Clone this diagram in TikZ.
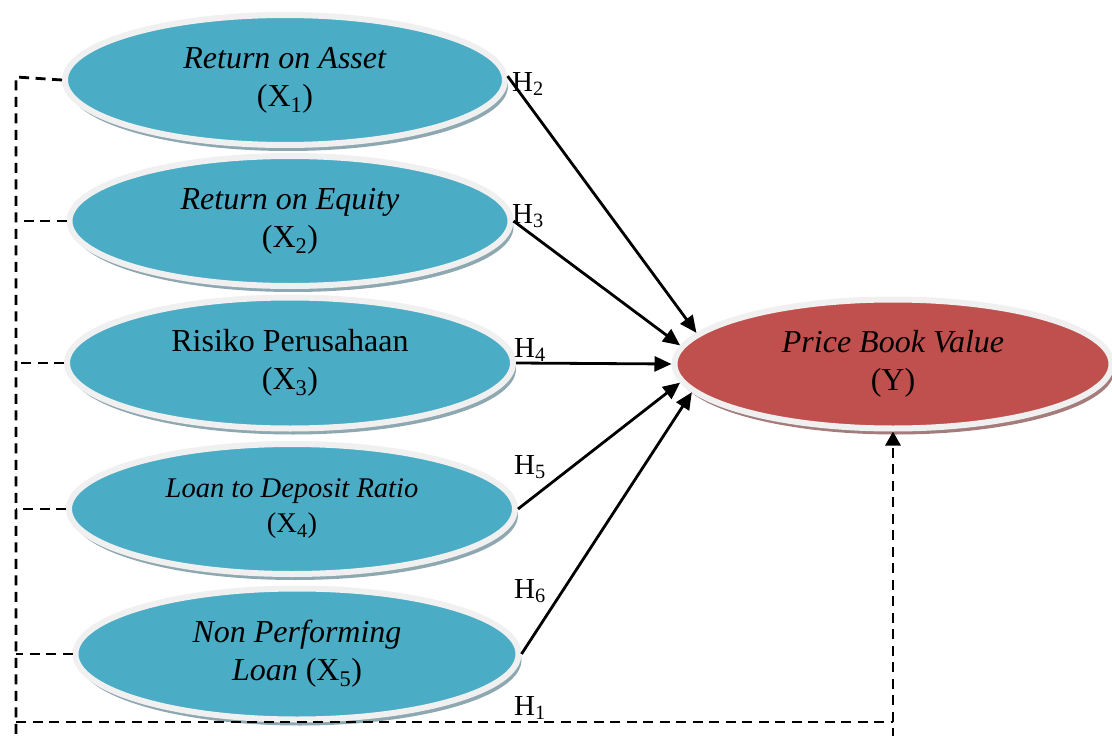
\documentclass[tikz,border=0pt]{standalone}
\usepackage{fontspec}
\setmainfont{Liberation Serif}
\usetikzlibrary{arrows.meta,shapes.geometric,shadows}
\definecolor{ebluefill}{HTML}{4BACC6}
\definecolor{eredfill}{HTML}{C0504D}
\definecolor{erim}{HTML}{F0F0F0}
\definecolor{ebshadow}{HTML}{8EA8B2}
\definecolor{ershadow}{HTML}{A47C7C}
\tikzset{
  varbase/.style={ellipse, draw=erim, line width=6pt, inner sep=0pt, align=center,
    font=\fontsize{32}{38}\selectfont},
  bluevar/.style={varbase, fill=ebluefill,
    drop shadow={shadow xshift=3pt, shadow yshift=-6pt, fill=ebshadow, opacity=1}},
  redvar/.style={varbase, fill=eredfill,
    drop shadow={shadow xshift=3pt, shadow yshift=-6pt, fill=ershadow, opacity=1}},
  hyparrow/.style={line width=2.8pt, -{Triangle[length=17pt,width=15pt]}},
  dline/.style={line width=2.8pt, dash pattern=on 10pt off 6.5pt},
  hlabel/.style={font=\fontsize{29}{32}\selectfont, inner sep=0pt, anchor=base west}
}
\begin{document}
\begin{tikzpicture}[x=1pt,y=-1pt]
\useasboundingbox (0,0) rectangle (1112,736);
\node[bluevar, minimum width=440, minimum height=130] (x1) at (285,80) {\textit{Return on Asset}\\(X\textsubscript{1})};
\node[bluevar, minimum width=441, minimum height=130] (x2) at (290,221) {\textit{Return on Equity}\\(X\textsubscript{2})};
\node[bluevar, minimum width=446, minimum height=131] (x3) at (290,363) {Risiko Perusahaan\\(X\textsubscript{3})};
\node[bluevar, minimum width=446, minimum height=130, font=\fontsize{28.5}{35}\selectfont] (x4) at (292,509) {\textit{Loan to Deposit Ratio}\\(X\textsubscript{4})};
\node[bluevar, minimum width=443, minimum height=131] (x5) at (297,654) {\textit{Non Performing}\\\textit{Loan} (X\textsubscript{5})};
\node[redvar, minimum width=437, minimum height=129] (y) at (893,364) {\textit{Price Book Value}\\(Y)};

\draw[hyparrow] (x1.1) -- (y.171);
\draw[hyparrow] (x2.east) -- (y.175);
\draw[hyparrow] (x3.east) -- (y.180);
\draw[hyparrow] (x4.east) -- (y.185);
\draw[hyparrow] (x5.east) -- (y.188);

\node[hlabel] (h2) at (512,91) {H\textsubscript{2}};
\node[hlabel] (h3) at (512,223) {H\textsubscript{3}};
\node[hlabel] (h4) at (514,357) {H\textsubscript{4}};
\node[hlabel] (h5) at (514,474) {H\textsubscript{5}};
\node[hlabel] (h6) at (514,598) {H\textsubscript{6}};
\node[hlabel] (h1) at (514,715) {H\textsubscript{1}};

\coordinate (lt) at (16,77);
\coordinate (lb) at (16,738);
\coordinate (bl) at (16,722);
\coordinate (br) at (893,722);
\coordinate (rb) at (893,738);
\draw[dline] (x1.west) -- (lt) -- (lb);
\draw[dline] (x2.west) -- (x2.west -| lt);
\draw[dline] (x3.west) -- (x3.west -| lt);
\draw[dline] (x4.west) -- (x4.west -| lt);
\draw[dline] (x5.west) -- (x5.west -| lt);
\draw[dline] (bl) -- (br);
\draw[dline, -{Triangle[length=14pt,width=15pt]}] (rb) -- (y.south);
\end{tikzpicture}
\end{document}
